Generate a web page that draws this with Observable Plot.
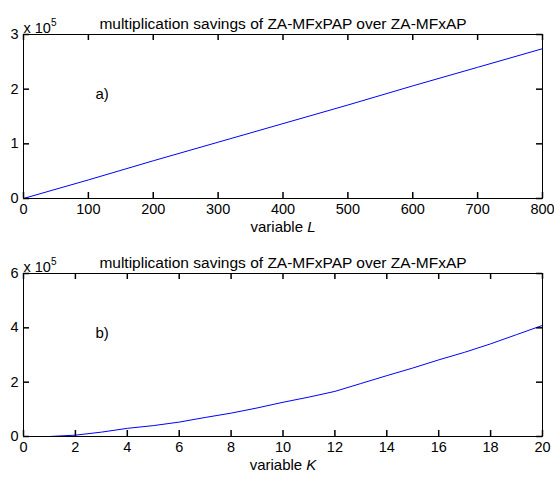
<!DOCTYPE html>
<html>
<head>
<meta charset="utf-8">
<script src="https://cdn.jsdelivr.net/npm/d3@7"></script>
<script src="https://cdn.jsdelivr.net/npm/@observablehq/plot@0.6"></script>
<style>
  html, body { margin: 0; padding: 0; background: #fff; }
  #chart { width: 554px; }
  #chart svg { display: block; }
</style>
</head>
<body>
<div id="chart"></div>
<script>
// ---- Data ----
const titleText = "multiplication savings of ZA-MFxPAP over ZA-MFxAP";

// Panel a): savings vs variable L (values x 10^5)
const L = [0, 100, 200, 300, 400, 500, 600, 700, 800];
const savingsL = [0.00, 0.34, 0.69, 1.03, 1.37, 1.71, 2.06, 2.40, 2.74];
const ticksL = [0, 100, 200, 300, 400, 500, 600, 700, 800];
const yTicksA = [0, 1, 2, 3];

// Panel b): savings vs variable K (values x 10^5)
const K = [1, 2, 3, 4, 5, 6, 7, 8, 9, 10, 11, 12, 13, 14, 15, 16, 17, 18, 19, 20];
const savingsK = [0.00, 0.05, 0.16, 0.30, 0.40, 0.53, 0.70, 0.86, 1.05, 1.26, 1.45, 1.66, 1.95, 2.24, 2.52, 2.82, 3.10, 3.41, 3.75, 4.09];
const ticksK = [0, 2, 4, 6, 8, 10, 12, 14, 16, 18, 20];
const yTicksB = [0, 2, 4, 6];

const font = "'Liberation Sans', Arial, Helvetica, sans-serif";
const W = 554, ML = 23, MR = 12, TICK = 6;

function panel({xs, ys, xTicks, yTicks, xDomain, yDomain, xVar, tag, height, marginTop, marginBottom}) {
  const data = xs.map((x, i) => ({x, y: ys[i]}));
  const xt = xTicks.map(v => ({v}));
  const yt = yTicks.map(v => ({v}));
  const svg = Plot.plot({
    width: W,
    height,
    marginLeft: ML,
    marginRight: MR,
    marginTop,
    marginBottom,
    style: {fontFamily: font, fontSize: "14.5px", color: "#000", background: "#fff", overflow: "visible"},
    x: {domain: xDomain, label: null},
    y: {domain: yDomain, label: null},
    marks: [
      Plot.line(data, {x: "x", y: "y", stroke: "#0000ff", strokeWidth: 1}),
      // inward ticks on all four sides (tick marks anchored at the frame edges)
      Plot.tickX(xt, {x: "v", stroke: "#000", strokeWidth: 1.5, className: "tk-b"}),
      Plot.tickX(xt, {x: "v", stroke: "#000", strokeWidth: 1.5, className: "tk-t"}),
      Plot.tickY(yt, {y: "v", stroke: "#000", strokeWidth: 1.5, className: "tk-l"}),
      Plot.tickY(yt, {y: "v", stroke: "#000", strokeWidth: 1.5, className: "tk-r"}),
      Plot.frame({stroke: "#000", strokeWidth: 1}),
      // tick labels
      Plot.axisX(xTicks, {anchor: "bottom", tickSize: 0, tickPadding: 5, label: null, tickFormat: d => String(d), fill: "#000", fontSize: 14.5}),
      Plot.axisY(yTicks, {anchor: "left", tickSize: 0, tickPadding: 5, label: null, tickFormat: d => String(d), fill: "#000", fontSize: 14.5}),
      // title, exponent, axis label, panel tag
      Plot.text([titleText], {frameAnchor: "top", dy: -17, fontSize: 15.5, fill: "#000"}),
      Plot.text(["x 10"], {frameAnchor: "top-left", textAnchor: "start", dy: -12, dx: 0, fontSize: 14.5, fill: "#000", className: "exp"}),
      Plot.text([`variable ${xVar}`], {frameAnchor: "bottom", dy: 33, fontSize: 15, fill: "#000", className: "xlab"}),
      Plot.text([tag], {frameAnchor: "top-left", dx: 72, dy: 54, fontSize: 15, fill: "#000"})
    ]
  });
  // shorten the full-span tick lines to short inward ticks at each frame edge
  const top = marginTop, bottom = height - marginBottom, left = ML, right = W - MR;
  svg.querySelectorAll("g.tk-b line").forEach(l => { l.setAttribute("y1", bottom); l.setAttribute("y2", bottom - TICK); });
  svg.querySelectorAll("g.tk-t line").forEach(l => { l.setAttribute("y1", top); l.setAttribute("y2", top + TICK); });
  svg.querySelectorAll("g.tk-l line").forEach(l => { l.setAttribute("x1", left); l.setAttribute("x2", left + TICK); });
  svg.querySelectorAll("g.tk-r line").forEach(l => { l.setAttribute("x1", right); l.setAttribute("x2", right - TICK); });
  // italic variable name in the axis label
  svg.querySelectorAll("g.xlab text").forEach(t => {
    t.textContent = "variable ";
    const ts = document.createElementNS("http://www.w3.org/2000/svg", "tspan");
    ts.setAttribute("font-style", "italic");
    ts.textContent = xVar;
    t.appendChild(ts);
  });
  // superscript exponent
  svg.querySelectorAll("g.exp text").forEach(t => {
    const ts = document.createElementNS("http://www.w3.org/2000/svg", "tspan");
    ts.setAttribute("dy", "-7");
    ts.setAttribute("font-size", "10");
    ts.textContent = "5";
    t.appendChild(ts);
  });
  return svg;
}

const chart = document.getElementById("chart");
chart.appendChild(panel({
  xs: L, ys: savingsL, xTicks: ticksL, yTicks: yTicksA,
  xDomain: [0, 800], yDomain: [0, 3], xVar: "L", tag: "a)",
  height: 240, marginTop: 34, marginBottom: 42
}));
chart.appendChild(panel({
  xs: K, ys: savingsK, xTicks: ticksK, yTicks: yTicksB,
  xDomain: [0, 20], yDomain: [0, 6], xVar: "K", tag: "b)",
  height: 237, marginTop: 33, marginBottom: 41
}));
</script>
</body>
</html>
